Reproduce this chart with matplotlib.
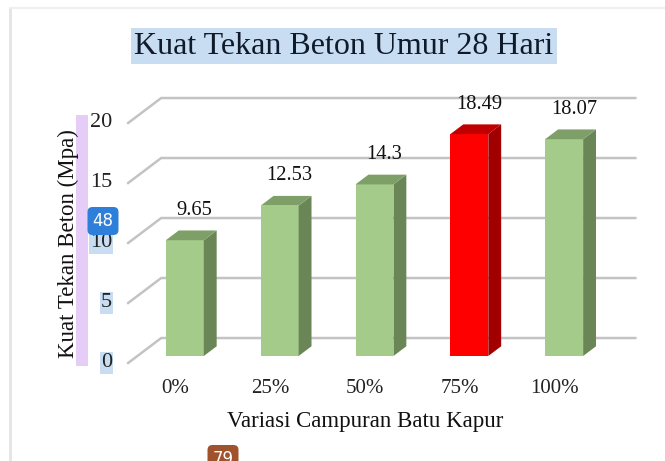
import matplotlib.pyplot as plt
from matplotlib.patches import Polygon, Rectangle

plt.rcParams['font.family'] = ['Liberation Serif', 'DejaVu Serif']

categories = ['0%', '25%', '50%', '75%', '100%']
values = [9.65, 12.53, 14.3, 18.49, 18.07]
value_labels = ['9.65', '12.53', '14.3', '18.49', '18.07']
yticks = [0, 5, 10, 15, 20]

green = ('#a4cb8a', '#6a8657', '#7e9f67')   # front, side, top
red = ('#ff0000', '#a20000', '#c00000')
bar_colors = [green, green, green, red, green]

# fake 3d depth: full floor depth in data units, bar sits between t=0.28 and t=0.67
DX, DY = 0.348, 2.08
T_BAR, T_BACK = 0.28, 0.67


def proj(x, y, t):
    return x + (t - T_BAR) * DX, y + (t - T_BAR) * DY


fig = plt.figure(figsize=(6.65, 4.61), dpi=100)
ax = fig.add_axes([90 / 665, 69 / 461, 569 / 665, 312 / 461])
ax.set_xlim(-1.0, 5.0)
ax.set_ylim(-3, 23)
ax.axis('off')

# gridlines: back wall + left diagonals
for g in yticks:
    x0, y0 = proj(-0.5, g, 0)
    x1, y1 = proj(-0.5, g, 1)
    x2, y2 = proj(4.5, g, 1)
    ax.plot([x0, x1, x2], [y0, y1, y2], color='#c3c3c3', lw=1.8, zorder=1,
            solid_joinstyle='miter', clip_on=False)
    ax.text(x0 - 0.17, y0, str(g), ha='right', va='center', fontsize=16,
            color='#222222',
            bbox=dict(boxstyle='square,pad=0.05', fc='#c8dcf2', ec='none') if g <= 10 else None)

w = 0.2
ddx = (T_BACK - T_BAR) * DX
ddy = (T_BACK - T_BAR) * DY
for i, (v, (cf, cs, ct)) in enumerate(zip(values, bar_colors)):
    ax.bar(i, v, width=2 * w, color=cf, zorder=3)
    side = [(i + w, 0), (i + w, v), (i + w + ddx, v + ddy), (i + w + ddx, ddy)]
    top = [(i - w, v), (i + w, v), (i + w + ddx, v + ddy), (i - w + ddx, v + ddy)]
    ax.add_patch(Polygon(side, closed=True, fc=cs, ec='none', zorder=3))
    ax.add_patch(Polygon(top, closed=True, fc=ct, ec='none', zorder=3))
    ax.text(i + 0.105, v + 2.5, value_labels[i], ha='center', va='center',
            fontsize=14.8, color='#111111')
    ax.text(i - 0.1, -2.67, categories[i], ha='center', va='center',
            fontsize=15, color='#222222')

# title, axis labels (with the highlight boxes seen in the screenshot)
fig.text(344 / 665, 1 - 46 / 461, 'Kuat Tekan Beton Umur 28 Hari', ha='center', va='center',
         fontsize=23, color='#0f1a2a',
         bbox=dict(boxstyle='square,pad=0.12', fc='#c9ddf2', ec='none'))
fig.text(365 / 665, 1 - 421 / 461, 'Variasi Campuran Batu Kapur', ha='center', va='center',
         fontsize=16.5, color='#111111')
fig.patches.append(Rectangle((76 / 665, 1 - 366 / 461), 12 / 665, 251 / 461,
                             transform=fig.transFigure, fc='#e6cdf7', ec='none', zorder=0))
fig.text(68 / 665, 1 - 244 / 461, 'Kuat Tekan Beton (Mpa)', ha='center', va='center',
         rotation=90, fontsize=16.5, color='#111111')

# frame lines of the screenshot
fig.add_artist(plt.Line2D([10 / 665, 10 / 665], [0, 1 - 8 / 461], color='#e4e4e4', lw=2,
                          transform=fig.transFigure))
fig.add_artist(plt.Line2D([10 / 665, 1], [1 - 8 / 461, 1 - 8 / 461], color='#efefef', lw=1.5,
                          transform=fig.transFigure))

# overlay badges (the lower one is cut by the image edge, as in the screenshot)
fig.text(103 / 665, 1 - 221 / 461, '48', ha='center', va='center', fontsize=12,
         color='white', family='DejaVu Sans',
         bbox=dict(boxstyle='round,pad=0.3,rounding_size=0.3', fc='#2e7fd9', ec='none'))
fig.text(223 / 665, 1 - 459 / 461, '79', ha='center', va='center', fontsize=12,
         color='white', family='DejaVu Sans',
         bbox=dict(boxstyle='round,pad=0.3,rounding_size=0.3', fc='#a0522d', ec='none'))

fig.savefig('out.png', dpi=100)
